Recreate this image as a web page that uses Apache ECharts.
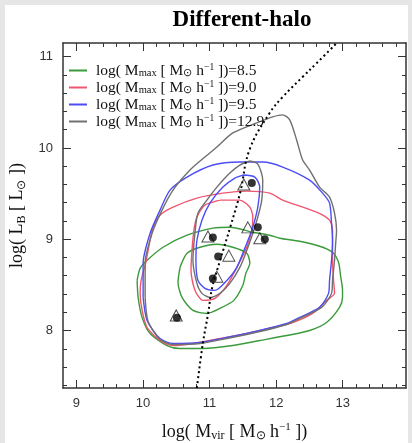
<!DOCTYPE html>
<html><head><meta charset="utf-8">
<script src="https://cdn.jsdelivr.net/npm/echarts@6/dist/echarts.min.js"></script>
<style>
html,body{margin:0;padding:0;background:#e6e6e6;width:412px;height:443px;overflow:hidden;}
#c{position:absolute;left:5px;top:5px;width:403px;height:438px;background:#fff;}
</style></head><body><div id="c"></div>
<script>
const xTicks = [9, 10, 11, 12, 13];
const yTicks = [8, 9, 10, 11];
const legendValues = ['8.5', '9.0', '9.5', '12.9'];

const greenOuter = [[9.913,8.549],[9.958,8.68],[10.063,8.769],[10.302,8.912],[10.662,9.044],[11.051,9.121],[11.305,9.132],[11.650,9.077],[11.904,9.044],[12.054,9.011],[12.353,8.978],[12.653,8.923],[12.847,8.857],[12.937,8.747],[12.967,8.604],[12.997,8.440],[12.997,8.363],[12.952,8.253],[12.757,8.088],[12.503,8.000],[12.159,7.945],[11.754,7.890],[11.350,7.835],[10.901,7.802],[10.557,7.802],[10.362,7.835],[10.108,7.967],[9.988,8.143],[9.928,8.363]];
const greenInner = [[10.557,8.692],[10.662,8.846],[10.856,8.912],[11.111,8.945],[11.350,8.912],[11.560,8.846],[11.605,8.736],[11.545,8.626],[11.500,8.495],[11.365,8.330],[11.156,8.242],[10.961,8.187],[10.751,8.220],[10.587,8.363],[10.527,8.527]];
const redOuter = [[10.078,8.879],[10.153,9.132],[10.257,9.264],[10.452,9.352],[10.811,9.451],[11.201,9.505],[11.560,9.527],[11.904,9.505],[12.099,9.429],[12.608,9.297],[12.802,9.209],[12.847,9.099],[12.847,8.989],[12.847,8.769],[12.862,8.549],[12.877,8.407],[12.757,8.330],[12.548,8.187],[12.249,8.088],[11.949,8.033],[11.560,7.967],[11.156,7.912],[10.751,7.857],[10.452,7.835],[10.257,7.890],[10.063,8.033],[9.988,8.220],[9.958,8.407],[9.973,8.549],[10.033,8.714]];
const redInner = [[11.156,9.429],[11.455,9.429],[11.605,9.352],[11.650,9.242],[11.635,9.099],[11.560,8.912],[11.410,8.692],[11.260,8.495],[11.081,8.352],[10.901,8.330],[10.781,8.440],[10.722,8.659],[10.737,8.879],[10.766,9.099],[10.811,9.242],[10.931,9.374],[11.051,9.407]];
const blueOuter = [[10.003,8.363],[10.003,8.736],[10.108,9.066],[10.257,9.319],[10.407,9.538],[10.662,9.681],[11.051,9.813],[11.455,9.846],[11.799,9.846],[12.099,9.791],[12.503,9.648],[12.698,9.505],[12.802,9.396],[12.832,9.176],[12.847,8.989],[12.832,8.769],[12.802,8.549],[12.787,8.407],[12.653,8.253],[12.353,8.143],[12.159,8.077],[11.754,8.000],[11.260,7.923],[10.856,7.868],[10.452,7.857],[10.257,7.912],[10.063,8.110]];
const blueInner = [[11.500,9.703],[11.680,9.681],[11.754,9.571],[11.725,9.352],[11.650,9.132],[11.560,8.956],[11.410,8.692],[11.260,8.549],[11.081,8.440],[10.931,8.462],[10.826,8.549],[10.796,8.769],[10.811,8.989],[10.886,9.209],[11.006,9.396],[11.201,9.571],[11.380,9.670]];
const grayOuter = [[10.033,8.363],[10.033,8.736],[10.138,9.066],[10.287,9.319],[10.452,9.538],[10.707,9.758],[10.931,9.901],[11.111,10.011],[11.350,10.165],[11.710,10.275],[11.949,10.341],[12.099,10.363],[12.204,10.308],[12.308,10.088],[12.398,9.868],[12.503,9.758],[12.653,9.571],[12.802,9.462],[12.877,9.286],[12.907,9.099],[12.892,8.934],[12.877,8.769],[12.847,8.549],[12.832,8.407],[12.683,8.253],[12.353,8.132],[12.159,8.066],[11.754,7.989],[11.260,7.912],[10.856,7.857],[10.452,7.846],[10.257,7.901],[10.078,8.099]];
const grayInner = [[11.605,9.857],[11.725,9.824],[11.799,9.648],[11.784,9.429],[11.725,9.242],[11.650,9.066],[11.560,8.879],[11.455,8.692],[11.305,8.516],[11.156,8.407],[11.006,8.363],[10.886,8.407],[10.811,8.516],[10.751,8.769],[10.781,9.066],[10.826,9.286],[10.961,9.429],[11.111,9.571],[11.305,9.725],[11.455,9.813]];

const dottedCurve = [[10.81,7.37],[10.90,7.86],[10.98,8.19],[11.04,8.47],[11.16,8.77],[11.31,9.13],[11.46,9.51],[11.60,9.98],[11.90,10.38],[12.10,10.56],[12.40,10.78],[12.61,10.93],[12.91,11.15]];
const circlePts = [[11.635,9.615],[11.725,9.132],[11.83,9.0],[11.05,9.02],[11.13,8.81],[11.05,8.57],[10.51,8.14]];
const trianglePts = [[11.515,9.60],[11.575,9.13],[11.755,9.01],[10.976,9.03],[11.29,8.82],[11.11,8.59],[10.50,8.165]];

const SERIF = 'Liberation Serif, Times New Roman, serif';
const SANS = 'Liberation Sans, Arial, sans-serif';
const colors = {g:'#3b9a3b', r:'#f0566f', b:'#4d4df5', k:'#707070'};

function loop(name, data, color) {
  return {type:'line', name:name, data:data.concat([data[0]]), showSymbol:false, symbol:'none',
    smooth:0.25, lineStyle:{color:color, width:1.4}, itemStyle:{color:color}, silent:true, z:2};
}

const richBase = {
  n:{fontFamily:SERIF, fontSize:15.5, color:'#111', lineHeight:17},
  s:{fontFamily:SERIF, fontSize:10.5, color:'#111', lineHeight:10, verticalAlign:'bottom'},
  p:{fontFamily:SERIF, fontSize:9.5, color:'#111', lineHeight:8, verticalAlign:'top'}
};
const richAxis = {
  n:{fontFamily:SERIF, fontSize:18, color:'#111', lineHeight:20},
  s:{fontFamily:SERIF, fontSize:12, color:'#111', lineHeight:12, verticalAlign:'bottom'},
  p:{fontFamily:SERIF, fontSize:11, color:'#111', lineHeight:10, verticalAlign:'top'}
};

const axisCommon = {
  axisLine:{show:true, onZero:false, lineStyle:{color:'#333', width:1.5}},
  axisTick:{show:true, inside:true, length:8, lineStyle:{color:'#333', width:1}},
  minorTick:{show:true, splitNumber:5, length:4, lineStyle:{color:'#333', width:1}},
  splitLine:{show:false}, minorSplitLine:{show:false},
  minInterval:1, maxInterval:1
};
function xAx(pos, labels) {
  return Object.assign({type:'value', position:pos, min:8.8, max:13.95,
    axisLabel:{show:labels, customValues:xTicks, color:'#333', fontFamily:SANS, fontSize:13, margin:9},
    name: labels ? '{n|log( M}{s|vir}{n| [ M}{s|⊙}{n| h}{p|−1}{n| ])}' : '',
    nameLocation:'middle', nameGap:34, nameTextStyle:{rich:richAxis}
  }, axisCommon, {axisTick:Object.assign({}, axisCommon.axisTick, {customValues:xTicks})});
}
function yAx(pos, labels) {
  return Object.assign({type:'value', position:pos, min:7.37, max:11.15,
    axisLabel:{show:labels, customValues:yTicks, color:'#333', fontFamily:SANS, fontSize:13, margin:10},
    name: labels ? '{n|log( L}{s|B}{n| [ L}{s|⊙}{n| ])}' : '',
    nameLocation:'middle', nameGap:27, nameRotate:90, nameTextStyle:{rich:richAxis}
  }, axisCommon, {axisTick:Object.assign({}, axisCommon.axisTick, {customValues:yTicks})});
}

const chart = echarts.init(document.getElementById('c'), null, {renderer:'canvas'});
chart.setOption({
  animation:false,
  backgroundColor:'#fff',
  title:{text:'Different-halo', left:237, top:4, textAlign:'center', padding:0,
    textStyle:{fontFamily:SERIF, fontWeight:'bold', fontSize:23, color:'#000'}},
  grid:{left:58, top:38, width:343, height:345, outerBoundsMode:'none'},
  legend:{data:legendValues, orient:'vertical', left:64, top:57, padding:0, itemGap:0,
    itemWidth:18, itemHeight:2, icon:'rect', selectedMode:false,
    formatter: v => '{n|log( M}{s|max}{n| [ M}{s|⊙}{n| h}{p|−1}{n| ])=' + v + '}',
    textStyle:{rich:richBase, padding:[0,0,0,4]}},
  xAxis:[xAx('bottom', true), xAx('top', false)],
  yAxis:[yAx('left', true), yAx('right', false)],
  series:[
    loop(legendValues[0], greenOuter, colors.g), loop(legendValues[0], greenInner, colors.g),
    loop(legendValues[1], redOuter, colors.r), loop(legendValues[1], redInner, colors.r),
    loop(legendValues[2], blueOuter, colors.b), loop(legendValues[2], blueInner, colors.b),
    loop(legendValues[3], grayOuter, colors.k), loop(legendValues[3], grayInner, colors.k),
    {type:'line', name:'curve', data:dottedCurve, showSymbol:false, symbol:'none', smooth:0.4,
      lineStyle:{color:'#000', width:2, type:[2,3]}, z:3, silent:true},
    {type:'scatter', name:'tri', data:trianglePts, symbol:'triangle', symbolSize:[12,11],
      itemStyle:{color:'rgba(255,255,255,0)', borderColor:'#222', borderWidth:1}, z:4, silent:true},
    {type:'scatter', name:'dot', data:circlePts, symbol:'circle', symbolSize:8,
      itemStyle:{color:'#000'}, z:5, silent:true}
  ]
});
</script></body></html>
